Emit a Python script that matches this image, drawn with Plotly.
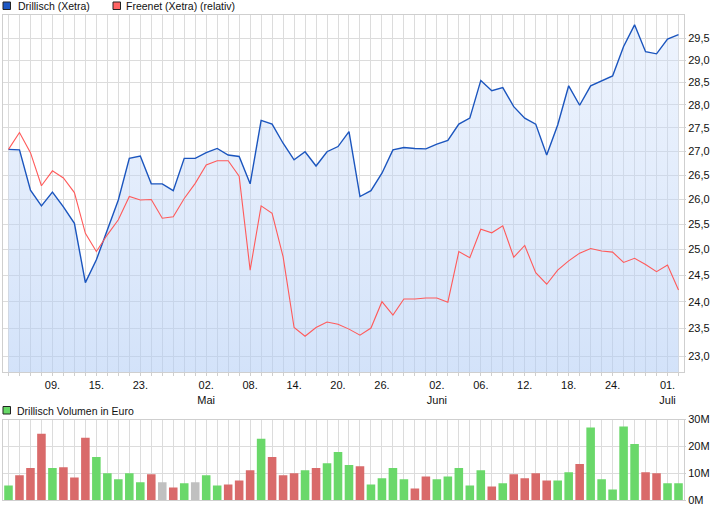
import plotly.graph_objects as go

# ---------------- data ----------------
dates = ["2008-04-03","2008-04-04","2008-04-07","2008-04-08","2008-04-09","2008-04-10","2008-04-11","2008-04-14","2008-04-15","2008-04-16",
         "2008-04-18","2008-04-22","2008-04-23","2008-04-24","2008-04-25","2008-04-28","2008-04-29","2008-04-30","2008-05-02","2008-05-05",
         "2008-05-06","2008-05-07","2008-05-08","2008-05-09","2008-05-12","2008-05-13","2008-05-14","2008-05-15","2008-05-16","2008-05-19",
         "2008-05-20","2008-05-21","2008-05-22","2008-05-23","2008-05-26","2008-05-27","2008-05-28","2008-05-29","2008-05-30","2008-06-02",
         "2008-06-03","2008-06-04","2008-06-05","2008-06-06","2008-06-09","2008-06-10","2008-06-11","2008-06-12","2008-06-13","2008-06-16",
         "2008-06-17","2008-06-18","2008-06-19","2008-06-20","2008-06-23","2008-06-24","2008-06-25","2008-06-26","2008-06-27","2008-06-30",
         "2008-07-01","2008-07-02"]

drillisch = [27.04, 27.03, 26.19, 25.87, 26.15, 25.85, 25.52, 24.36, 24.80, 25.39,
             25.99, 26.85, 26.90, 26.32, 26.32, 26.18, 26.85, 26.85, 26.97, 27.06,
             26.92, 26.89, 26.32, 27.66, 27.58, 27.17, 26.82, 26.99, 26.69, 26.99,
             27.10, 27.42, 26.06, 26.18, 26.54, 27.03, 27.08, 27.06, 27.05, 27.15,
             27.23, 27.58, 27.71, 28.54, 28.31, 28.38, 27.96, 27.71, 27.58, 26.92,
             27.56, 28.42, 27.99, 28.42, 28.53, 28.64, 29.31, 29.81, 29.19, 29.14,
             29.48, 29.58]

freenet_rel = [27.04, 27.40, 26.97, 26.28, 26.59, 26.44, 26.14, 25.32, 24.96, 25.29,
               25.59, 26.06, 25.99, 26.00, 25.62, 25.65, 26.02, 26.33, 26.71, 26.80,
               26.80, 26.48, 24.60, 25.87, 25.72, 24.86, 23.52, 23.36, 23.52, 23.62,
               23.58, 23.49, 23.38, 23.51, 24.00, 23.75, 24.05, 24.05, 24.07, 24.07,
               23.99, 24.96, 24.84, 25.40, 25.33, 25.47, 24.85, 25.08, 24.55, 24.33,
               24.60, 24.78, 24.93, 25.02, 24.97, 24.95, 24.75, 24.83, 24.71, 24.57,
               24.70, 24.22]

volume_mio = [5.4, 9.2, 11.9, 24.7, 11.9, 12.2, 8.4, 23.2, 16.0, 10.0,
              7.7, 10.0, 6.6, 9.6, 6.6, 4.7, 6.2, 6.6, 9.2, 5.4,
              5.8, 7.3, 11.1, 22.8, 16.0, 9.2, 10.0, 11.1, 11.9, 13.7,
              17.9, 13.0, 12.6, 5.8, 8.1, 11.9, 7.7, 4.3, 8.8, 7.7,
              8.8, 11.9, 5.4, 11.1, 5.0, 6.2, 9.6, 8.1, 10.0, 7.3,
              7.3, 10.3, 13.4, 27.0, 7.7, 3.9, 27.4, 20.9, 10.3, 10.0,
              6.2, 6.2]

volume_dir = ["up", "down", "down", "down", "up", "down", "down", "down", "up", "up",
              "up", "up", "up", "down", "flat", "down", "up", "flat", "up", "up",
              "down", "down", "down", "up", "down", "down", "down", "up", "down", "up",
              "up", "up", "down", "up", "up", "up", "up", "down", "down", "up",
              "up", "up", "up", "up", "down", "up", "down", "down", "down", "down",
              "up", "up", "down", "up", "up", "up", "up", "up", "down", "down",
              "up", "up"]

label_dates = ["2008-04-09", "2008-04-15", "2008-04-23", "2008-05-02", "2008-05-08", "2008-05-14", "2008-05-20",
               "2008-05-26", "2008-06-02", "2008-06-06", "2008-06-12", "2008-06-18", "2008-06-24", "2008-07-01"]
label_texts = ["09.", "15.", "23.", "02.<br>Mai", "08.", "14.", "20.", "26.", "02.<br>Juni", "06.", "12.", "18.", "24.", "01.<br>Juli"]

price_ticks = [23.0, 23.5, 24.0, 24.5, 25.0, 25.5, 26.0, 26.5, 27.0, 27.5, 28.0, 28.5, 29.0, 29.5]
vol_ticks = [0, 10, 20, 30]
vol_tick_texts = ["0M", "10M", "20M", "30M"]

# ---------------- styling ----------------
W, H = 726, 508
ML, MR, MT, MB = 3, 42, 15, 8
PW = W - ML - MR
PH = H - MT - MB
FONT = "Liberation Sans, Arial, sans-serif"
GRID = "#dcdcdc"
BORDER = "#cfcfcf"
dir_colors = {"up": "#6ad86a", "down": "#d96a6a", "flat": "#c0c0c0"}


def px_x(x):
    return (x - ML) / PW


def px_y(y):
    return (H - MB - y) / PH


main_bottom = 372
vol_top = 419.5

lab = dict(zip(label_dates, label_texts))
ticktext = [lab.get(d, "") for d in dates]

fig = go.Figure()

fig.add_trace(go.Scatter(
    x=dates, y=drillisch, mode="lines",
    line=dict(color="#1b55be", width=1.4),
    fill="tozeroy",
    fillgradient=dict(type="vertical",
                      colorscale=[[0, "rgba(175,203,245,0.55)"], [1, "rgba(205,222,250,0.35)"]],
                      start=22.7, stop=30.0),
    xaxis="x", yaxis="y", showlegend=False, hoverinfo="skip"))

fig.add_trace(go.Scatter(
    x=dates, y=freenet_rel, mode="lines",
    line=dict(color="#ff5a5a", width=1.1),
    xaxis="x", yaxis="y", showlegend=False, hoverinfo="skip"))

fig.add_trace(go.Bar(
    x=dates, y=volume_mio,
    marker=dict(color=[dir_colors[d] for d in volume_dir], line=dict(width=0)),
    width=0.78, xaxis="x2", yaxis="y2", showlegend=False, hoverinfo="skip"))

axis_common = dict(showgrid=True, gridcolor=GRID, gridwidth=1, zeroline=False,
                   showline=True, linecolor=BORDER, linewidth=1, mirror=True)

fig.update_layout(
    width=W, height=H,
    margin=dict(l=ML, r=MR, t=MT, b=MB, autoexpand=False),
    paper_bgcolor="white", plot_bgcolor="white",
    separators=",.",
    font=dict(family=FONT, size=11, color="#111"),
    bargap=0.2,
    xaxis=dict(type="category", range=[-0.5, 61.5], domain=[0, 1], anchor="y",
               tickmode="array", tickvals=dates, ticktext=ticktext,
               ticks="outside", ticklen=3, tickcolor=BORDER, tickangle=0,
               tickfont=dict(size=11, color="#111"), **axis_common),
    yaxis=dict(type="log", domain=[px_y(main_bottom), 1], anchor="x", side="right",
               range=[1.3563, 1.4777], tickmode="array", tickvals=price_ticks,
               tickformat=".1f", ticks="outside", ticklen=1, tickcolor=BORDER,
               tickfont=dict(size=11, color="#111"), **axis_common),
    xaxis2=dict(type="category", range=[-0.5, 61.5], domain=[0, 1], anchor="y2",
                matches="x", tickmode="array", tickvals=dates, ticktext=["" for _ in dates],
                ticks="", showticklabels=False, **axis_common),
    yaxis2=dict(domain=[0, px_y(vol_top)], anchor="x2", side="right",
                range=[0, 30], tickmode="array", tickvals=vol_ticks, ticktext=vol_tick_texts,
                ticks="outside", ticklen=1, tickcolor=BORDER,
                tickfont=dict(size=11, color="#111"), **axis_common),
)

# legend-like labels (squares + texts)
legend_items = [
    (3, 2, "#1c57c4", "Drillisch (Xetra)", 16, 6),
    (113, 2, "#ff6464", "Freenet (Xetra) (relativ)", 124, 6),
    (3, 406.5, "#66d866", "Drillisch Volumen in Euro", 15, 410.5),
]
for sx, sy, col, txt, tx, ty in legend_items:
    fig.add_shape(type="rect", xref="paper", yref="paper",
                  x0=px_x(sx), x1=px_x(sx + 7.5), y0=px_y(sy + 7.5), y1=px_y(sy),
                  fillcolor=col, line=dict(color="#222", width=1))
    fig.add_annotation(xref="paper", yref="paper", x=px_x(tx), y=px_y(ty),
                       xanchor="left", yanchor="middle", text=txt, showarrow=False,
                       font=dict(family=FONT, size=10.5, color="#111"))

fig.write_html("out.html",
               config={"displayModeBar": False},
               post_script="document.body.style.margin='0';document.body.style.overflow='hidden';")
